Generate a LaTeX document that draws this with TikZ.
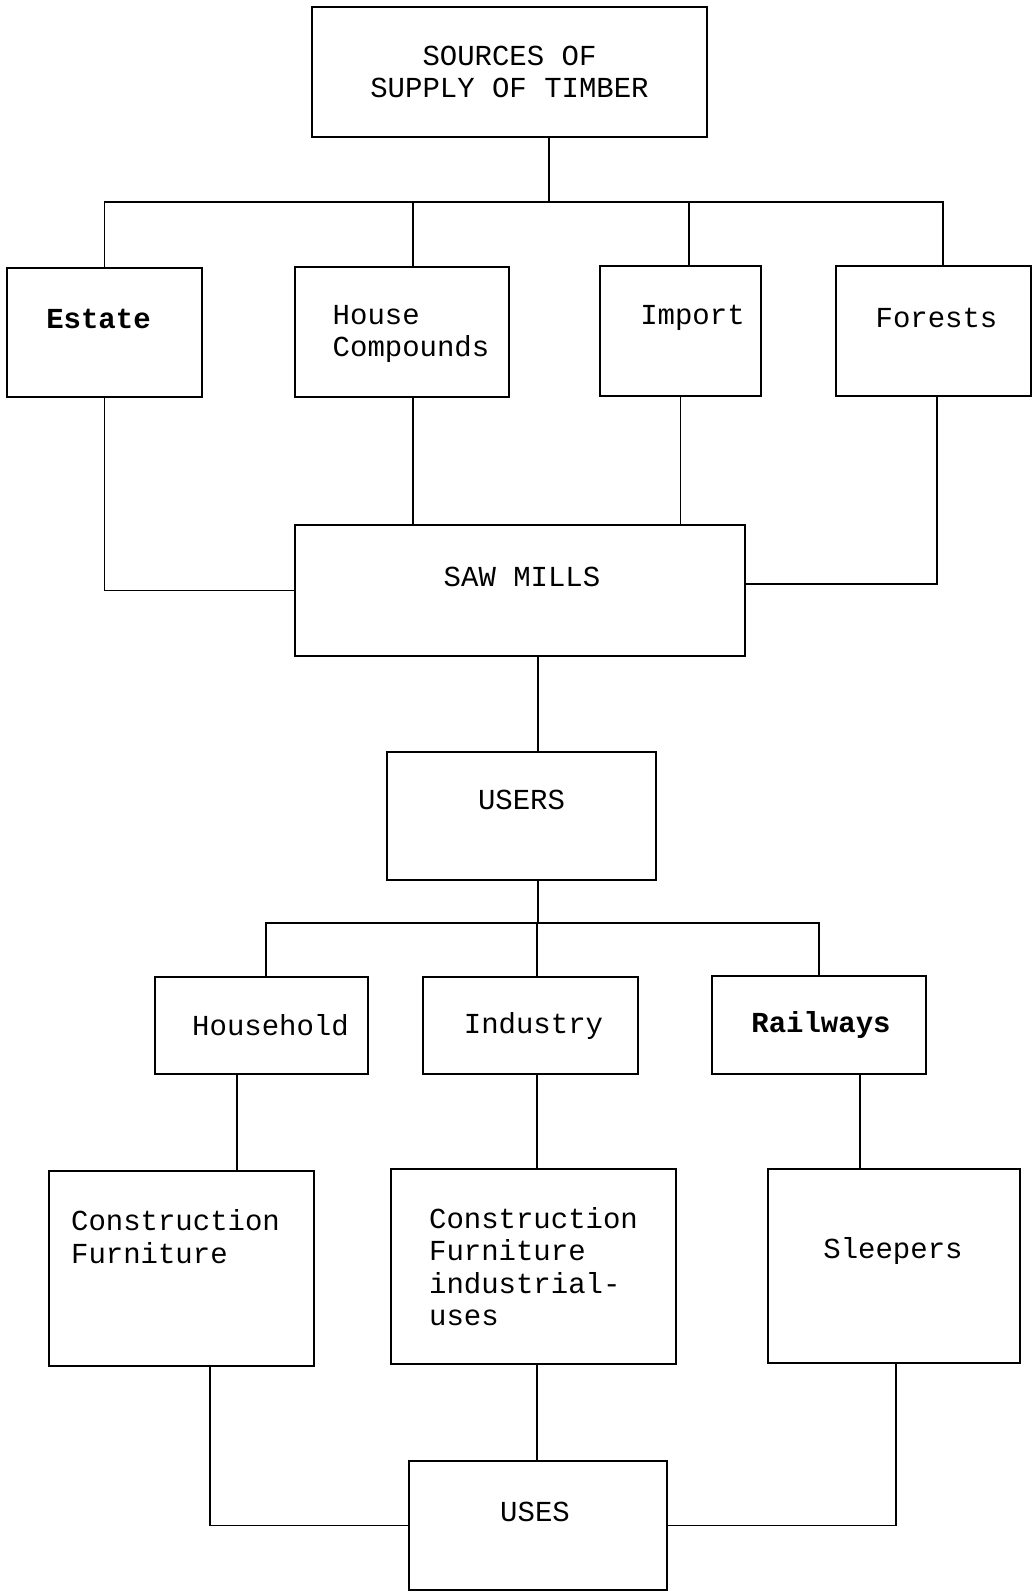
\documentclass[tikz,border=0pt]{standalone}
\usepackage{fontspec}
\setmonofont{Liberation Mono}
\usepackage{tikz}
\usetikzlibrary{positioning}

\begin{document}
\begin{tikzpicture}[x=0.02cm, y=-0.02cm,
        box/.style={draw, line width=1.2pt, inner sep=0pt},
        txt/.style={font=\ttfamily\fontsize{16.5}{18.5}\selectfont, align=left, inner sep=0pt},
        link/.style={line width=1pt}]
        \useasboundingbox (0,0) rectangle (1035,1596);

        % boxes
        \node[box, minimum width=7.9cm,  minimum height=2.6cm]  (src)      at (509.5,72)    {};
        \node[box, minimum width=3.9cm,  minimum height=2.58cm] (estate)   at (104.5,332.5) {};
        \node[box, minimum width=4.28cm, minimum height=2.6cm]  (house)    at (402,332)     {};
        \node[box, minimum width=3.22cm, minimum height=2.6cm]  (import)   at (680.5,331)   {};
        \node[box, minimum width=3.9cm,  minimum height=2.6cm]  (forests)  at (933.5,331)   {};
        \node[box, minimum width=9.0cm,  minimum height=2.62cm] (saw)      at (520,590.5)   {};
        \node[box, minimum width=5.38cm, minimum height=2.56cm] (users)    at (521.5,816)   {};
        \node[box, minimum width=4.26cm, minimum height=1.94cm] (household) at (261.5,1025.5) {};
        \node[box, minimum width=4.3cm,  minimum height=1.94cm] (industry) at (530.5,1025.5) {};
        \node[box, minimum width=4.28cm, minimum height=1.96cm] (railways) at (819,1025)    {};
        \node[box, minimum width=5.3cm,  minimum height=3.9cm]  (cf1)      at (181.5,1268.5) {};
        \node[box, minimum width=5.7cm,  minimum height=3.9cm]  (cf2)      at (533.5,1266.5) {};
        \node[box, minimum width=5.04cm, minimum height=3.88cm] (sleepers) at (894,1266)    {};
        \node[box, minimum width=5.16cm, minimum height=2.58cm] (uses)     at (538,1525.5)  {};

        % texts
        \node[txt, align=center] (src-t) at (src) {SOURCES OF\\SUPPLY OF TIMBER};
        \node[txt] (estate-t)    at ([shift={(-6,-14)}]estate.center)  {\bfseries Estate};
        \node[txt] (house-t)     at ([shift={(9,2)}]house.center)      {House\\Compounds};
        \node[txt] (import-t)    at ([shift={(12,-13)}]import.center)  {Import};
        \node[txt] (forests-t)   at ([shift={(3,-13)}]forests.center)  {Forests};
        \node[txt] (saw-t)       at ([shift={(2,-14)}]saw.center)      {SAW MILLS};
        \node[txt] (users-t)     at ([shift={(0,-16)}]users.center)    {USERS};
        \node[txt] (household-t) at ([shift={(9,0)}]household.center)  {Household};
        \node[txt] (industry-t)  at ([shift={(3,0)}]industry.center)   {Industry};
        \node[txt] (railways-t)  at ([shift={(2,0)}]railways.center)   {\bfseries Railways};
        \node[txt] (cf1-t)       at ([shift={(-6,-32)}]cf1.center)     {Construction\\Furniture};
        \node[txt] (cf2-t)       at (cf2)                              {Construction\\Furniture\\industrial-\\uses};
        \node[txt] (sleepers-t)  at ([shift={(-1,-15)}]sleepers.center) {Sleepers};
        \node[txt] (uses-t)      at ([shift={(-3,-14)}]uses.center)    {USES};

        % sources -> saw mills
        \coordinate (bus1) at (549,202);
        \draw[link] (src.south -| bus1) -- (bus1);
        \draw[link] (estate.north) |- (bus1) -| ([xshift=0.19cm]forests.north);
        \draw[link] ([xshift=0.22cm]house.north) -- ([xshift=0.22cm]house.north |- bus1);
        \draw[link] ([xshift=0.17cm]import.north) -- ([xshift=0.17cm]import.north |- bus1);
        \draw[link] (estate.south) |- (saw.west);
        \draw[link] ([xshift=0.22cm]house.south) -- ([xshift=0.22cm]house.south |- saw.north);
        \draw[link] (import.south) -- (import.south |- saw.north);
        \draw[link] ([xshift=0.07cm]forests.south) |- ([yshift=0.13cm]saw.east);
        \draw[link] ([xshift=0.36cm]saw.south) -- ([xshift=0.36cm]saw.south |- users.north);

        % users -> uses
        \coordinate (bus2) at (538,923);
        \draw[link] (users.south -| bus2) -- (bus2);
        \draw[link] ([xshift=0.09cm]household.north) |- (bus2) -| (railways.north);
        \draw[link] ([xshift=0.13cm]industry.north) -- ([xshift=0.13cm]industry.north |- bus2);
        \draw[link] ([xshift=-0.49cm]household.south) -- ([xshift=-0.49cm]household.south |- cf1.north);
        \draw[link] ([xshift=0.13cm]industry.south) -- ([xshift=0.13cm]industry.south |- cf2.north);
        \draw[link] ([xshift=0.82cm]railways.south) -- ([xshift=0.82cm]railways.south |- sleepers.north);
        \draw[link] ([xshift=0.57cm]cf1.south) |- (uses.west);
        \draw[link] ([xshift=0.07cm]cf2.south) -- ([xshift=0.07cm]cf2.south |- uses.north);
        \draw[link] ([xshift=0.04cm]sleepers.south) |- (uses.east);
\end{tikzpicture}
\end{document}
